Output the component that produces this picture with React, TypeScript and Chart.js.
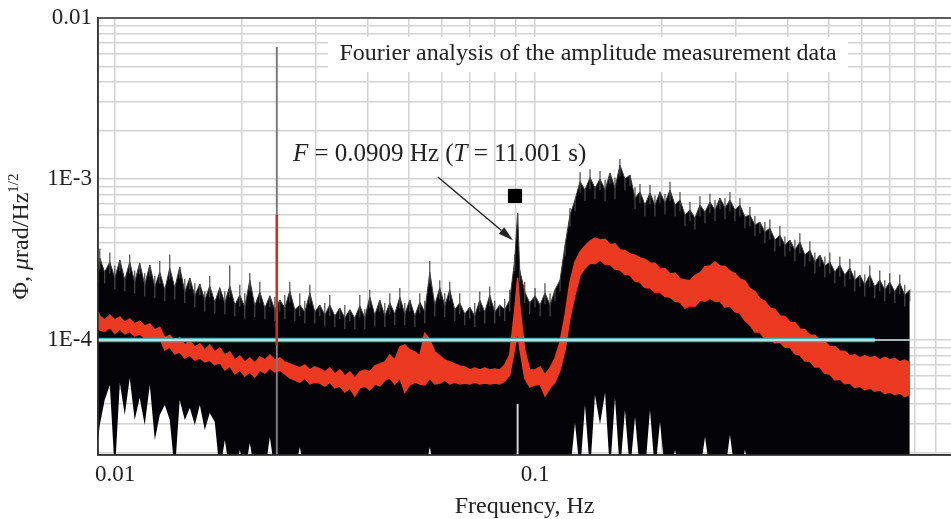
import React, { useEffect, useRef } from "react";
import { Chart, registerables } from "chart.js";

Chart.register(...registerables);

const FONT = "'Liberation Serif', 'Times New Roman', Times, serif";
const E4 = 1e-4; // spectrum arrays are given in units of 1E-4

// ---- axes ----
const X_MIN = 0.00911;
const X_MAX = 0.978;
const Y_MIN = 1.93e-5;
const Y_MAX = 0.01;
const xGrid = [0.01, 0.02, 0.03, 0.04, 0.05, 0.06, 0.07, 0.08, 0.09, 0.1, 0.2, 0.3, 0.4, 0.5, 0.6, 0.7, 0.8, 0.9];
const yGrid = [
  2e-5, 3e-5, 4e-5, 5e-5, 6e-5, 7e-5, 8e-5, 9e-5,
  1e-4, 2e-4, 3e-4, 4e-4, 5e-4, 6e-4, 7e-4, 8e-4, 9e-4,
  1e-3, 2e-3, 3e-3, 4e-3, 5e-3, 6e-3, 7e-3, 8e-3, 9e-3, 1e-2,
];
const xTickValues = [0.01, 0.1];
const xTickLabels = ["0.01", "0.1"];
const yTickValues = [0.01, 1e-3, 1e-4];
const yTickLabels = ["0.01", "1E-3", "1E-4"];

// ---- texts ----
const TITLE = "Fourier analysis of the amplitude measurement data";
const X_TITLE = "Frequency, Hz";

// ---- spectrum (frequency in Hz) ----
const freq = [
  0.00911, 0.0092, 0.00945, 0.00972, 0.00999, 0.01027, 0.01055, 0.01084, 0.01114, 0.01145,
  0.01177, 0.0121, 0.01244, 0.01278, 0.01314, 0.0135, 0.01388, 0.01426, 0.01466, 0.01507,
  0.01549, 0.01592, 0.01636, 0.01681, 0.01728, 0.01776, 0.01826, 0.01876, 0.01929, 0.01982,
  0.02037, 0.02094, 0.02152, 0.02212, 0.02274, 0.02337, 0.02402, 0.02468, 0.02537, 0.02607,
  0.0268, 0.02754, 0.02831, 0.0291, 0.0299, 0.03073, 0.03159, 0.03246, 0.03337, 0.0343,
  0.03525, 0.03623, 0.03723, 0.03827, 0.03933, 0.04042, 0.04155, 0.0427, 0.04389, 0.04511,
  0.04636, 0.04765, 0.04897, 0.05033, 0.05173, 0.05317, 0.05464, 0.05616, 0.05772, 0.05932,
  0.06097, 0.06266, 0.0644, 0.06619, 0.06803, 0.06992, 0.07186, 0.07386, 0.07591, 0.07802,
  0.08018, 0.08241, 0.0847, 0.08705, 0.08947, 0.0909, 0.09195, 0.09451, 0.09713, 0.1,
  0.1028, 0.1056, 0.1086, 0.1116, 0.1147, 0.1179, 0.1211, 0.1245, 0.128, 0.1315,
  0.1352, 0.1389, 0.1428, 0.1468, 0.1508, 0.155, 0.1593, 0.1637, 0.1683, 0.173,
  0.1778, 0.1827, 0.1878, 0.193, 0.1984, 0.2039, 0.2096, 0.2154, 0.2214, 0.2275,
  0.2338, 0.2403, 0.247, 0.2539, 0.2609, 0.2682, 0.2756, 0.2833, 0.2911, 0.2992,
  0.3075, 0.316, 0.3248, 0.3338, 0.3431, 0.3526, 0.3624, 0.3725, 0.3828, 0.3934,
  0.4044, 0.4156, 0.4271, 0.439, 0.4512, 0.4637, 0.4766, 0.4898, 0.5034, 0.5174,
  0.5317, 0.5465, 0.5617, 0.5772, 0.5933, 0.6097, 0.6266, 0.644, 0.6619, 0.6803,
  0.6992, 0.7186, 0.7385, 0.759, 0.7801,
];

// upper envelope of the raw (black) spectrum body, x1E-4
const blackTopE4 = [
  2.72, 3.23, 2.64, 3.05, 2.43, 3.14, 2.36, 3.05, 2.29, 3.01,
  2.2, 2.92, 2.14, 2.64, 2.05, 2.8, 2.11, 2.84, 1.99, 2.43,
  1.88, 2.23, 1.77, 2.17, 1.72, 2.11, 1.7, 2.17, 1.65, 1.9,
  1.6, 2.36, 1.63, 1.99, 1.58, 1.88, 1.54, 1.77, 1.58, 2.02,
  1.54, 1.65, 1.49, 1.96, 1.49, 1.65, 1.43, 1.65, 1.41, 1.58,
  1.37, 1.54, 1.37, 1.63, 1.37, 1.85, 1.43, 1.77, 1.41, 1.7,
  1.45, 1.85, 1.45, 1.77, 1.41, 1.72, 1.49, 2.64, 1.65, 2.11,
  1.63, 2.05, 1.54, 1.7, 1.45, 1.6, 1.41, 1.77, 1.49, 1.9,
  1.49, 1.65, 1.54, 1.77, 3.14, 6.15, 2.72, 1.99, 1.7, 1.88,
  1.65, 1.96, 1.65, 2.05, 2.36, 3.89, 5.98, 7.41, 9.66, 8.55,
  10.2, 8.8, 10.0, 8.55, 10.9, 8.8, 12.2, 10.0, 10.6, 7.62,
  8.32, 6.9, 8.2, 6.9, 8.32, 7.1, 8.55, 6.9, 7.41, 5.98,
  6.42, 5.72, 6.9, 6.23, 7.2, 6.42, 7.62, 6.61, 7.41, 6.42,
  6.9, 5.81, 5.98, 5.18, 5.4, 4.69, 4.95, 4.18, 4.49, 3.89,
  4.18, 3.62, 4.06, 3.37, 3.62, 3.05, 3.37, 2.88, 3.05, 2.64,
  2.92, 2.53, 2.8, 2.36, 2.53, 2.2, 2.53, 2.14, 2.36, 2.05,
  2.29, 1.99, 2.26, 1.9, 2.05,
];

// tips of the thin spectral needles above the body, x1E-4
const needleE4 = [
  3.1, 3.7, 2.64, 3.5, 2.9, 3.14, 2.36, 3.4, 2.7, 3.01,
  2.6, 2.92, 2.5, 3.1, 2.05, 3.4, 2.11, 2.84, 2.4, 2.43,
  2.25, 2.23, 2.0, 2.5, 1.72, 2.11, 2.0, 2.9, 1.65, 2.2,
  1.95, 2.6, 1.63, 2.3, 1.58, 1.88, 1.85, 1.77, 1.9, 2.3,
  1.54, 1.95, 1.75, 2.2, 1.49, 1.65, 1.7, 1.9, 1.41, 1.58,
  1.65, 1.54, 1.37, 1.9, 1.55, 2.05, 1.43, 1.77, 1.7, 1.95,
  1.45, 2.1, 1.7, 1.77, 1.41, 1.95, 1.75, 3.1, 1.65, 2.35,
  1.95, 2.3, 1.54, 1.95, 1.45, 1.6, 1.7, 2.0, 1.49, 2.15,
  1.75, 1.65, 1.8, 2.05, 3.4, 6.15, 2.72, 2.3, 1.7, 2.1,
  1.65, 2.25, 1.95, 2.05, 2.36, 3.89, 6.6, 7.41, 11.0, 8.55,
  11.5, 8.8, 11.2, 9.9, 10.9, 10.2, 13.3, 10.0, 10.6, 8.9,
  9.3, 6.9, 9.2, 7.9, 8.32, 8.1, 9.6, 6.9, 8.3, 5.98,
  7.2, 5.72, 7.8, 6.23, 8.1, 7.4, 7.62, 7.6, 8.3, 6.42,
  7.6, 5.81, 6.7, 5.9, 5.4, 5.4, 5.6, 4.18, 5.1, 4.4,
  4.18, 4.2, 4.6, 3.37, 4.1, 3.5, 3.37, 3.3, 3.5, 2.64,
  3.3, 2.53, 3.2, 2.7, 2.53, 2.55, 2.9, 2.14, 2.7, 2.35,
  2.6, 1.99, 2.55, 2.2, 2.05,
];

// lower envelope of the raw spectrum (0.15 = below the axis), x1E-4
const blackBottomE4 = [
  0.239, 0.296, 0.424, 0.526, 0.15, 0.54, 0.342, 0.58, 0.318, 0.437,
  0.296, 0.526, 0.239, 0.342, 0.395, 0.318, 0.15, 0.424, 0.318, 0.378,
  0.296, 0.395, 0.276, 0.352, 0.309, 0.15, 0.239, 0.15, 0.15, 0.207,
  0.15, 0.229, 0.15, 0.15, 0.15, 0.25, 0.15, 0.15, 0.15, 0.15,
  0.15, 0.216, 0.15, 0.15, 0.15, 0.15, 0.15, 0.15, 0.15, 0.15,
  0.15, 0.15, 0.15, 0.15, 0.15, 0.15, 0.15, 0.15, 0.15, 0.15,
  0.15, 0.15, 0.15, 0.15, 0.15, 0.15, 0.15, 0.216, 0.15, 0.15,
  0.15, 0.15, 0.15, 0.15, 0.15, 0.15, 0.15, 0.15, 0.15, 0.15,
  0.15, 0.15, 0.15, 0.15, 0.15, 0.15, 0.15, 0.15, 0.15, 0.15,
  0.15, 0.15, 0.15, 0.15, 0.15, 0.15, 0.15, 0.305, 0.15, 0.395,
  0.15, 0.455, 0.3, 0.47, 0.15, 0.437, 0.15, 0.367, 0.15, 0.332,
  0.15, 0.15, 0.367, 0.15, 0.309, 0.15, 0.15, 0.207, 0.15, 0.15,
  0.15, 0.15, 0.15, 0.25, 0.15, 0.15, 0.15, 0.15, 0.257, 0.15,
  0.15, 0.207, 0.15, 0.15, 0.15, 0.15, 0.15, 0.15, 0.15, 0.15,
  0.15, 0.15, 0.15, 0.15, 0.15, 0.15, 0.15, 0.15, 0.15, 0.15,
  0.15, 0.15, 0.15, 0.15, 0.15, 0.15, 0.15, 0.15, 0.15, 0.15,
  0.15, 0.15, 0.15, 0.15, 0.15,
];

// averaged (red) spectrum band, upper and lower edge, x1E-4
const redHiE4 = [
  1.49, 1.41, 1.33, 1.43, 1.33, 1.39, 1.29, 1.35, 1.26, 1.31,
  1.22, 1.26, 1.15, 1.2, 1.03, 1.07, 0.972, 1.03, 0.931, 0.986,
  0.905, 0.944, 0.867, 0.931, 0.843, 0.892, 0.807, 0.843, 0.751, 0.796,
  0.73, 0.773, 0.72, 0.785, 0.751, 0.807, 0.751, 0.773, 0.73, 0.709,
  0.69, 0.67, 0.7, 0.651, 0.68, 0.661, 0.633, 0.67, 0.615, 0.651,
  0.597, 0.633, 0.581, 0.633, 0.651, 0.633, 0.69, 0.709, 0.73, 0.807,
  0.751, 0.905, 0.931, 0.867, 0.843, 0.796, 1.1, 1.0, 0.843, 0.796,
  0.751, 0.73, 0.709, 0.69, 0.68, 0.651, 0.67, 0.651, 0.67, 0.651,
  0.661, 0.651, 0.7, 0.807, 1.54, 2.43, 1.65, 0.867, 0.651, 0.651,
  0.68, 0.606, 0.67, 0.773, 0.972, 1.43, 2.29, 3.05, 3.52, 3.84,
  4.12, 4.3, 4.18, 4.22, 3.9, 3.95, 3.62, 3.6, 3.42, 3.36,
  3.23, 3.16, 3.01, 3.0, 2.76, 2.78, 2.57, 2.6, 2.39, 2.36,
  2.33, 2.52, 2.61, 2.85, 2.88, 3.05, 2.88, 2.86, 2.68, 2.58,
  2.39, 2.33, 2.08, 2.0, 1.8, 1.74, 1.58, 1.55, 1.41, 1.4,
  1.29, 1.28, 1.17, 1.16, 1.07, 1.07, 0.986, 0.98, 0.905, 0.91,
  0.855, 0.85, 0.796, 0.81, 0.773, 0.8, 0.773, 0.79, 0.751, 0.78,
  0.751, 0.77, 0.73, 0.75, 0.72,
];
const redLoE4 = [
  1.19, 1.15, 1.13, 1.2, 1.1, 1.17, 1.09, 1.13, 1.06, 1.09,
  1.03, 1.04, 1.0, 1.03, 0.867, 0.905, 0.819, 0.843, 0.773, 0.807,
  0.751, 0.773, 0.73, 0.751, 0.7, 0.73, 0.651, 0.69, 0.615, 0.651,
  0.597, 0.633, 0.589, 0.651, 0.624, 0.67, 0.633, 0.651, 0.615, 0.581,
  0.564, 0.548, 0.581, 0.533, 0.548, 0.54, 0.518, 0.548, 0.504, 0.518,
  0.475, 0.504, 0.449, 0.504, 0.518, 0.489, 0.533, 0.518, 0.564, 0.581,
  0.533, 0.581, 0.475, 0.526, 0.548, 0.533, 0.526, 0.581, 0.533, 0.54,
  0.564, 0.533, 0.548, 0.533, 0.54, 0.533, 0.548, 0.533, 0.54, 0.533,
  0.54, 0.533, 0.556, 0.606, 0.892, 1.15, 0.892, 0.581, 0.511, 0.526,
  0.533, 0.449, 0.504, 0.548, 0.651, 0.867, 1.37, 1.9, 2.53, 2.8,
  3.01, 2.98, 3.14, 2.95, 2.96, 2.76, 2.72, 2.56, 2.53, 2.32,
  2.29, 2.12, 2.11, 1.98, 1.99, 1.86, 1.85, 1.74, 1.72, 1.58,
  1.63, 1.62, 1.77, 1.74, 1.82, 1.74, 1.74, 1.6, 1.63, 1.5,
  1.47, 1.32, 1.24, 1.12, 1.12, 1.02, 1.03, 0.96, 0.972, 0.9,
  0.905, 0.82, 0.807, 0.74, 0.74, 0.68, 0.68, 0.62, 0.615, 0.565,
  0.573, 0.535, 0.54, 0.505, 0.518, 0.49, 0.504, 0.48, 0.489, 0.465,
  0.475, 0.458, 0.469, 0.445, 0.462,
];

// ---- single features ----
const SPIKE_F = 0.02428; // narrow line near 0.024 Hz
const SPIKE_TOP = 6.6e-3;
const SPIKE_RED = [9.3e-5, 6.0e-4];
const PEAK_F = 0.0909; // F = 0.0909 Hz
const PEAK_GAP_TOP = 4.0e-5;
const BELOW = 1.5e-5;
const LEVEL = 1e-4; // reference level line
const LEVEL_END = 0.644;
const DATA_END = 0.7801;
const MARKER = { x: 0.0896, y: 7.85e-4 };
const ARROW_FROM = { x: 0.0587, y: 1.03e-3 };
const ARROW_TO = { x: 0.0886, y: 4.17e-4 };

const labelFor = (v: number, vals: number[], labs: string[]) => {
  for (let i = 0; i < vals.length; i++) {
    if (Math.abs(v / vals[i] - 1) < 1e-6) return labs[i];
  }
  return "";
};

type Seg = { t: string; italic?: boolean; size: number; dy?: number };

const drawSegs = (ctx: CanvasRenderingContext2D, segs: Seg[], x: number, y: number, center: boolean) => {
  let total = 0;
  for (const s of segs) {
    ctx.font = `${s.italic ? "italic " : ""}${s.size}px ${FONT}`;
    total += ctx.measureText(s.t).width;
  }
  let cx = center ? x - total / 2 : x;
  for (const s of segs) {
    ctx.font = `${s.italic ? "italic " : ""}${s.size}px ${FONT}`;
    ctx.fillText(s.t, cx, y + (s.dy || 0));
    cx += ctx.measureText(s.t).width;
  }
};

const decor = {
  id: "decor",
  beforeDatasetsDraw(chart: any) {
    const { ctx } = chart;
    ctx.save();
    ctx.fillStyle = "#ffffff";
    ctx.fillRect(328, 37, 520, 35);
    ctx.fillStyle = "#222";
    ctx.font = `24px ${FONT}`;
    ctx.textAlign = "center";
    ctx.textBaseline = "middle";
    ctx.fillText(TITLE, 588, 54);
    ctx.restore();
  },
  afterDatasetsDraw(chart: any) {
    const { ctx, chartArea } = chart;
    const xs = chart.scales.x;
    const ys = chart.scales.y;
    ctx.save();
    // frame
    ctx.strokeStyle = "#333";
    ctx.lineWidth = 1.5;
    ctx.beginPath();
    ctx.moveTo(chartArea.right, chartArea.top);
    ctx.lineTo(chartArea.left, chartArea.top);
    ctx.lineTo(chartArea.left, chartArea.bottom);
    ctx.lineTo(chartArea.right, chartArea.bottom);
    ctx.stroke();

    // arrow
    const x1 = xs.getPixelForValue(ARROW_FROM.x);
    const y1 = ys.getPixelForValue(ARROW_FROM.y);
    const x2 = xs.getPixelForValue(ARROW_TO.x);
    const y2 = ys.getPixelForValue(ARROW_TO.y);
    const a = Math.atan2(y2 - y1, x2 - x1);
    const hl = 15;
    const hw = 4.2;
    const bx = x2 - hl * Math.cos(a);
    const by = y2 - hl * Math.sin(a);
    ctx.strokeStyle = "#222";
    ctx.lineWidth = 1.4;
    ctx.beginPath();
    ctx.moveTo(x1, y1);
    ctx.lineTo(bx, by);
    ctx.stroke();
    ctx.fillStyle = "#222";
    ctx.beginPath();
    ctx.moveTo(x2, y2);
    ctx.lineTo(bx + hw * Math.sin(a), by - hw * Math.cos(a));
    ctx.lineTo(bx - hw * Math.sin(a), by + hw * Math.cos(a));
    ctx.closePath();
    ctx.fill();

    // annotation
    ctx.fillStyle = "#222";
    ctx.textAlign = "left";
    ctx.textBaseline = "middle";
    drawSegs(
      ctx,
      [
        { t: "F", italic: true, size: 25 },
        { t: " = 0.0909 Hz (", size: 25 },
        { t: "T", italic: true, size: 25 },
        { t: " = 11.001 s)", size: 25 },
      ],
      293,
      154,
      false
    );

    // y axis title
    ctx.translate(22, (chartArea.top + chartArea.bottom) / 2);
    ctx.rotate(-Math.PI / 2);
    drawSegs(
      ctx,
      [
        { t: "Φ, ", size: 24 },
        { t: "μ", italic: true, size: 24 },
        { t: "rad/Hz", size: 24 },
        { t: "1/2", size: 15, dy: -8 },
      ],
      0,
      0,
      true
    );
    ctx.restore();
  },
};

const pts = (ys: number[]) => freq.map((f, i) => ({ x: f, y: ys[i] * E4 }));
// each needle: from inside the body up to its tip, then a break
const needlePts = () => {
  const out: { x: number; y: number | null }[] = [];
  freq.forEach((f, i) => {
    out.push({ x: f, y: blackTopE4[i] * E4 * 0.85 });
    out.push({ x: f, y: needleE4[i] * E4 });
    out.push({ x: f, y: null });
  });
  return out;
};

const RED = "#ec3a22";

export default function App() {
  const ref = useRef<HTMLCanvasElement>(null);
  useEffect(() => {
    document.body.style.margin = "0";
    const chart = new Chart(ref.current as HTMLCanvasElement, {
      type: "line",
      data: {
        datasets: [
          {
            label: "raw spectrum",
            data: pts(blackTopE4),
            borderColor: "#3a3a3a",
            borderWidth: 1,
            backgroundColor: "#040408",
            fill: "+1",
            pointRadius: 0,
            order: 10,
          },
          {
            label: "raw spectrum floor",
            data: pts(blackBottomE4),
            borderColor: "rgba(0,0,0,0)",
            borderWidth: 1,
            fill: false,
            pointRadius: 0,
            order: 11,
          },
          {
            label: "raw spectrum needles",
            data: needlePts(),
            borderColor: "#4a4a4a",
            borderWidth: 1.2,
            spanGaps: false,
            fill: false,
            pointRadius: 0,
            order: 9,
          },
          {
            label: "averaged",
            data: pts(redHiE4),
            borderColor: RED,
            borderWidth: 1.5,
            backgroundColor: RED,
            fill: "+1",
            pointRadius: 0,
            order: 5,
          },
          {
            label: "averaged low",
            data: pts(redLoE4),
            borderColor: RED,
            borderWidth: 1.5,
            fill: false,
            pointRadius: 0,
            order: 6,
          },
          {
            label: "level",
            data: [
              { x: X_MIN, y: LEVEL },
              { x: LEVEL_END, y: LEVEL },
            ],
            borderColor: "#46aeb0",
            borderWidth: 4.5,
            pointRadius: 0,
            fill: false,
            order: 4,
          },
          {
            label: "level centre",
            data: [
              { x: X_MIN, y: LEVEL },
              { x: DATA_END, y: LEVEL },
            ],
            borderColor: "#e2f2f2",
            borderWidth: 1.5,
            pointRadius: 0,
            fill: false,
            order: 3,
          },
          {
            label: "line 0.024",
            data: [
              { x: SPIKE_F, y: BELOW },
              { x: SPIKE_F, y: SPIKE_TOP },
            ],
            borderColor: "#7c7c7c",
            borderWidth: 2,
            pointRadius: 0,
            fill: false,
            order: 2.5,
          },
          {
            label: "line 0.024 averaged",
            data: [
              { x: SPIKE_F, y: SPIKE_RED[0] },
              { x: SPIKE_F, y: SPIKE_RED[1] },
            ],
            borderColor: "#c8321f",
            borderWidth: 2.5,
            pointRadius: 0,
            fill: false,
            order: 2,
          },
          {
            label: "peak gap",
            data: [
              { x: PEAK_F, y: BELOW },
              { x: PEAK_F, y: PEAK_GAP_TOP },
            ],
            borderColor: "#d4d4d4",
            borderWidth: 2,
            pointRadius: 0,
            fill: false,
            order: 2,
          },
          {
            label: "marker",
            data: [MARKER],
            showLine: false,
            pointStyle: "rect",
            pointRadius: 10,
            pointBorderWidth: 0,
            pointBackgroundColor: "#000",
            pointBorderColor: "#000",
            order: 1,
          },
        ] as any,
      },
      options: {
        responsive: false,
        devicePixelRatio: 1,
        animation: false,
        events: [],
        layout: { autoPadding: false, padding: { top: 18, left: 0, right: 0, bottom: 0 } },
        plugins: {
          legend: { display: false },
          tooltip: { enabled: false },
        },
        scales: {
          x: {
            type: "logarithmic",
            min: X_MIN,
            max: X_MAX,
            afterBuildTicks: (s: any) => {
              s.ticks = xGrid.map((v) => ({ value: v }));
            },
            afterFit: (s: any) => {
              s.height = 64;
              s.paddingLeft = 0;
              s.paddingRight = 0;
            },
            grid: { color: "#d4d4d4", lineWidth: 1.5, drawTicks: false },
            border: { display: true, color: "#333", width: 1.5 },
            ticks: {
              autoSkip: false,
              maxRotation: 0,
              minRotation: 0,
              padding: 6,
              color: "#222",
              font: { family: FONT, size: 23 },
              callback: (v: any) => labelFor(Number(v), xTickValues, xTickLabels),
            },
            title: {
              display: true,
              text: X_TITLE,
              color: "#222",
              font: { family: FONT, size: 24, lineHeight: 1 },
              padding: { top: 0, bottom: 0 },
            },
          },
          y: {
            type: "logarithmic",
            min: Y_MIN,
            max: Y_MAX,
            afterBuildTicks: (s: any) => {
              s.ticks = yGrid.map((v) => ({ value: v }));
            },
            afterFit: (s: any) => {
              s.width = 98;
              s.paddingTop = 0;
              s.paddingBottom = 0;
            },
            grid: { color: "#d4d4d4", lineWidth: 1.5, drawTicks: false },
            border: { display: true, color: "#333", width: 1.5 },
            ticks: {
              autoSkip: false,
              padding: 6,
              color: "#222",
              font: { family: FONT, size: 23 },
              callback: (v: any) => labelFor(Number(v), yTickValues, yTickLabels),
            },
          },
        },
      } as any,
      plugins: [decor],
    });
    return () => chart.destroy();
  }, []);
  return (
    <div style={{ width: 951, height: 519, background: "#fff" }}>
      <canvas ref={ref} width={951} height={519} style={{ display: "block" }} />
    </div>
  );
}
